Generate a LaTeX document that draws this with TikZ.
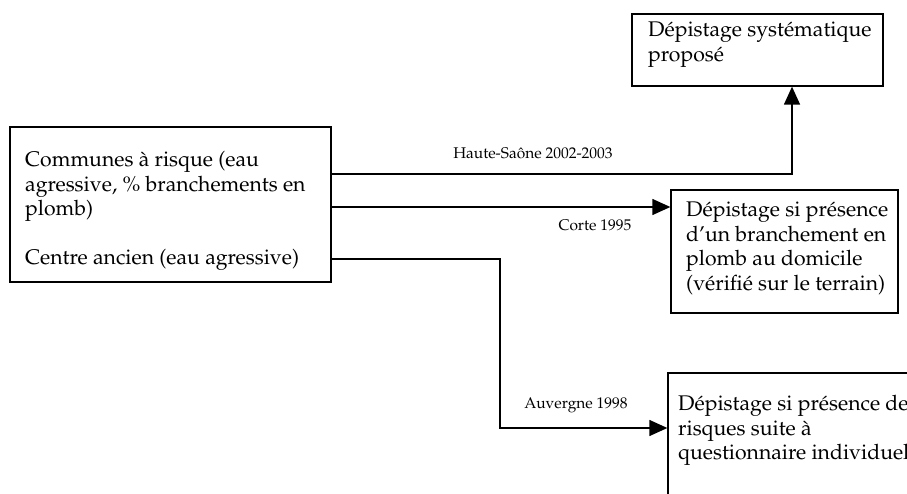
\documentclass[tikz,border=0pt]{standalone}
\usepackage[T1]{fontenc}
\usepackage{mathpazo}
\usetikzlibrary{arrows.meta,calc}
\begin{document}
\begin{tikzpicture}[x=1pt,y=-1pt,
  boxstyle/.style={draw,line width=1.3pt,rectangle,inner sep=0pt},
  txt/.style={anchor=north west,align=left,inner sep=0pt,font=\fontsize{21.2}{24.5}\selectfont},
  lbl/.style={inner sep=0pt,font=\fontsize{15.5}{18}\selectfont},
  conn/.style={line width=1.3pt,-{Triangle[length=18pt,width=16pt]}},
  plain/.style={line width=1.3pt}]
\useasboundingbox (0,0) rectangle (907,494);
\clip (0,0) rectangle (907,494);
% boxes
\node[boxstyle,minimum width=321pt,minimum height=155pt] (src) at (170.5,204.5) {};
\node[boxstyle,minimum width=251pt,minimum height=72pt] (top) at (757.5,50) {};
\node[boxstyle,minimum width=227pt,minimum height=123pt] (mid) at (784.5,251.5) {};
\node[boxstyle,minimum width=300pt,minimum height=200pt] (bot) at (818,473) {};
% texts
\node[txt] (srct) at (25,151) {Communes à risque (eau\\agressive, \% branchements en\\plomb)\\[24.5pt]Centre ancien (eau agressive)};
\node[txt] (topt) at (648,22) {Dépistage systématique\\proposé};
\node[txt] (midt) at (686,202) {Dépistage si présence\\d'un branchement en\\plomb au domicile\\(vérifié sur le terrain)};
\node[txt] (bott) at (678,395) {Dépistage si présence de\\risques suite à\\questionnaire individuel};
% connectors
\coordinate (s1) at (src.east |- 0,174);
\coordinate (s2) at (src.east |- 0,207);
\coordinate (s3) at (src.east |- 0,259);
\coordinate (k1) at (792,174);
\coordinate (k3a) at (500,259);
\coordinate (k3b) at (500,428);
\draw[conn] (s1) -- (k1) -- (k1 |- top.south);
\draw[conn] (s2) -- (s2 -| mid.west);
\draw[conn] (s3) -- (k3a) -- (k3b) -- (k3b -| bot.west);
% labels
\node[lbl] (l1) at (533,153) {Haute-Saône 2002-2003};
\node[lbl] (l2) at (595,225) {Corte 1995};
\node[lbl] (l3) at (576,405) {Auvergne 1998};
\end{tikzpicture}
\end{document}
